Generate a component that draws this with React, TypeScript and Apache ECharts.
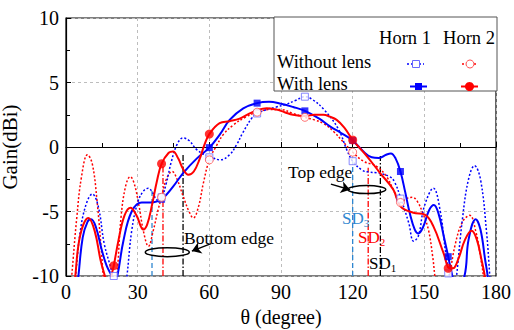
import React, { useEffect, useRef } from "react";
import * as echarts from "echarts";

const FONT = '"Liberation Serif", "Times New Roman", serif';

// Horn 1 without lens (blue dotted)
const horn1WithoutLens: [number, number][] = [
  [3, -12], [4, -10], [6, -6.5], [8.5, -4.4], [11, -3.65], [13.5, -4.6], [16, -7.5], [19.5, -10], [22.5, -14], [25.5, -10],
  [27.5, -6.5], [30, -4.3], [32.5, -3.4], [34.4, -3.2], [36.5, -3.6], [38, -4.1], [40, -3.9], [42, -2.8], [44, -1.2], [46.5, 0.2],
  [49, 0.7], [51.5, 0.5], [54.7, -0.2], [58, -0.6], [61, -0.8], [64.5, -1.0], [68.5, -0.6], [71.5, 0.2], [74, 1.1], [78, 2.3],
  [80, 2.6], [84, 2.9], [88, 3.1], [92, 3.3], [96, 3.6], [100, 3.9], [103, 3.7], [108, 2.9], [114, 1.4], [117.5, -0.2],
  [120, -1.1], [124, -1.8], [127, -1.95], [130, -2.0], [135.5, -2.3], [137.5, -2.7], [140, -3.9], [143.5, -5.9], [145.5, -7.3], [147.5, -6.9],
  [150, -4.6], [153.8, -3.2], [156.5, -4.8], [159, -8.3], [160.5, -10], [162, -12.5], [163.5, -10], [166, -5.5], [168.5, -2.5], [171, -1.45],
  [173.5, -2.5], [176, -6.5], [177.4, -10], [178.5, -13],
];

// Horn 1 with lens (blue solid)
const horn1WithLens: [number, number][] = [
  [4, -12], [5.2, -10], [7, -7], [9, -5.8], [10.5, -5.6], [12.5, -6.2], [15, -8], [17, -9.2], [19.2, -10], [20.3, -10.4],
  [21.5, -10], [24, -7.3], [27.5, -5.0], [31.7, -4.3], [35.3, -4.3], [40, -4.05], [44.9, -3.05], [49.1, -2.0], [54.7, -0.9], [60, -0.05],
  [64.5, 1.0], [68.5, 2.1], [74.2, 3.0], [80, 3.4], [85, 3.5], [90, 3.35], [95.1, 3.1], [100, 2.8], [106, 2.2], [110.5, 1.6],
  [115, 1.1], [120, 0.5], [124.5, -0.35], [128, -0.8], [131, -0.85], [134, -0.6], [136, -0.5], [138, -0.9], [140, -1.9], [142, -3.5],
  [144, -5.2], [146, -6.4], [147.5, -6.7], [149.5, -6.2], [152, -4.9], [154, -4.5], [156, -5.2], [158, -6.8], [160, -8.5], [161.5, -9.8],
  [163.5, -11], [166.8, -10], [168.5, -7.2], [171.5, -5.6], [173.5, -6.4], [175.5, -8.8], [176.5, -10], [177.5, -12],
];

// Horn 2 without lens (red dotted)
const horn2WithoutLens: [number, number][] = [
  [1, -13], [2.4, -10], [4.5, -5.5], [6.5, -2.3], [9, -0.6], [11, -1.3], [13, -4.2], [15, -8.5], [15.6, -10], [18.5, -14],
  [21.3, -10], [23, -5.5], [25, -3], [26.9, -2.3], [28.5, -2.8], [30.5, -4.5], [32.5, -6.6], [34.5, -7.7], [36.5, -6.5], [38.5, -4.9],
  [40, -3.9], [42, -2.5], [44.4, -1.9], [46.5, -2.5], [49, -3.8], [51.5, -5.0], [53.3, -5.5], [55.5, -4.6], [57.5, -2.8], [60, -1.0],
  [63, 0.1], [66, 1.0], [70, 1.7], [75, 2.3], [80, 2.7], [85, 2.9], [90, 2.9], [95, 2.6], [100, 2.3], [104, 2.1],
  [108, 1.8], [112, 1.2], [116, 0.4], [120, -0.4], [124.5, -1.1], [130, -1.5], [134.2, -2.3], [137, -3.3], [140, -4.3], [142.5, -4.0],
  [145, -3.9], [147, -4.2], [149.5, -5.2], [151.7, -6.4], [153.5, -8.5], [154.4, -10], [157, -14], [160.6, -10], [163, -7.5], [166, -5.8],
  [169, -5.3], [171.5, -6.5], [173.5, -8.5], [174.7, -10], [176, -13],
];

// Horn 2 with lens (red solid)
const horn2WithLens: [number, number][] = [
  [3, -12], [3.9, -10], [6, -6.8], [9.4, -5.5], [12, -6.5], [14.5, -8.8], [16.3, -10], [17.8, -10.8], [19.2, -9.8], [20, -9.2],
  [22, -7.2], [24.5, -5.3], [27, -4.7], [29.5, -5.3], [32.4, -6.4], [34, -6.0], [36, -4.5], [38, -2.7], [40, -1.3], [43, -0.45],
  [44.8, -0.35], [47, -0.9], [49, -1.7], [51.2, -2.15], [53.5, -1.9], [56, -0.9], [58, 0.2], [60, 1.0], [64.3, 1.85], [68.5, 2.0],
  [72.7, 2.2], [76.9, 2.6], [80, 2.85], [84, 3.0], [88, 2.9], [91.5, 2.7], [95, 2.5], [100, 2.4], [104, 2.5], [107.7, 2.5],
  [110.5, 2.35], [113.3, 2.1], [116.5, 1.5], [120, 0.55], [125.9, -0.7], [131.4, -2.0], [137, -3.3], [140, -4.6], [145.4, -5.1], [150.2, -5.25],
  [153.8, -6.15], [158, -8.2], [160.6, -9.4], [162, -9.4], [164.2, -8.7], [167, -7.2], [169.8, -6.5], [172, -7.2], [174, -8.8], [175.3, -10],
  [176.5, -12],
];

// Marker points (every 20°)
const horn1WithoutMarkers: [number, number][] = [[20, -10], [40, -3.9], [60, -0.8], [80, 2.6], [100, 3.9], [120, -1.1], [140, -4.0], [160, -9.8]];
const horn1WithMarkers: [number, number][] = [[40, -4.05], [60, -0.05], [80, 3.4], [100, 2.8], [120, 0.5], [140, -1.9], [160, -8.5]];
const horn2WithoutMarkers: [number, number][] = [[40, -3.9], [60, -1.0], [80, 2.7], [100, 2.3], [120, -0.4], [140, -4.3]];
const horn2WithMarkers: [number, number][] = [[20, -9.2], [40, -1.3], [60, 1.0], [120, 0.55], [160, -9.4]];

// SD reference lines: [theta, top gain]
const sd3Lines: [number, number][] = [[36, -3.3], [120, -1.1]];
const sd2Lines: [number, number][] = [[40.6, -1.3], [126.5, -1.6]];
const sd1Lines: [number, number][] = [[49, -0.5], [131.6, -0.7]];

// Edge ellipses (centre theta, centre gain) and arrows
const bottomEdgeCenter: [number, number] = [42.4, -8.15];
const topEdgeCenter: [number, number] = [125.9, -3.3];
const bottomArrow: [number, number][] = [[60.7, -7.49], [52.7, -8.07]];
const topArrow: [number, number][] = [[110.9, -2.88], [118.9, -3.31]];

const BLUE = "#0000ff";
const RED = "#ff0000";
const SDBLUE = "#2e86d0";

export default function App() {
  const ref = useRef<HTMLDivElement>(null);
  useEffect(() => {
    if (!ref.current) return;
    const chart = echarts.init(ref.current, undefined, { renderer: "svg" });

    const vline = (pts: [number, number][], color: string, type: any) =>
      pts.map(([x, top]) => ({
        type: "line",
        data: [[x, -10], [x, top]],
        symbol: "none",
        silent: true,
        z: 1,
        lineStyle: { color, width: 1.3, type },
      }));

    const series: any[] = [
      ...vline(sd3Lines, SDBLUE, [5, 3]),
      ...vline(sd2Lines, RED, [6, 2, 1.5, 2]),
      ...vline(sd1Lines, "#000", [6, 2, 1.5, 2]),
      { type: "line", data: horn2WithoutLens, smooth: 0.4, showSymbol: false, lineStyle: { color: RED, width: 1.5, type: [2, 2] }, z: 2 },
      { type: "line", data: horn1WithoutLens, smooth: 0.4, showSymbol: false, lineStyle: { color: BLUE, width: 1.5, type: [2, 2] }, z: 2 },
      { type: "line", data: horn1WithLens, smooth: 0.4, showSymbol: false, lineStyle: { color: BLUE, width: 2 }, z: 3 },
      { type: "line", data: horn2WithLens, smooth: 0.4, showSymbol: false, lineStyle: { color: RED, width: 2 }, z: 3 },
      { type: "scatter", data: horn1WithMarkers, symbol: "rect", symbolSize: 7, itemStyle: { color: BLUE }, z: 4 },
      { type: "scatter", data: horn1WithoutMarkers, symbol: "rect", symbolSize: 7, itemStyle: { color: "#fff", borderColor: "#6a6aff", borderWidth: 1 }, z: 5 },
      { type: "scatter", data: horn2WithoutMarkers, symbol: "circle", symbolSize: 8, itemStyle: { color: "#fff", borderColor: "#ff5050", borderWidth: 1 }, z: 5 },
      { type: "scatter", data: horn2WithMarkers, symbol: "circle", symbolSize: 9, itemStyle: { color: RED }, z: 6 },
      {
        type: "lines", coordinateSystem: "cartesian2d", polyline: false, symbol: ["none", "arrow"], symbolSize: 9, silent: true, z: 6,
        lineStyle: { color: "#000", width: 1.5, opacity: 1 },
        data: [{ coords: bottomArrow }, { coords: topArrow }],
      },
    ];

    const axisText = { fontFamily: FONT, fontSize: 20, color: "#000" };

    chart.setOption({
      animation: false,
      backgroundColor: "#fff",
      grid: {
        left: 66, right: 18, top: 18, bottom: 54, show: true, borderColor: "#000", borderWidth: 1.2,
        backgroundColor: "transparent", containLabel: false, outerBoundsMode: "none",
      },
      xAxis: {
        type: "value", min: 0, max: 180, interval: 30,
        axisLine: { lineStyle: { color: "#000", width: 1.2 } },
        axisTick: { inside: true, length: 5, lineStyle: { color: "#000" } },
        minorTick: { show: true, splitNumber: 2, length: 4, lineStyle: { color: "#000" } },
        splitLine: { show: true, lineStyle: { color: "#bdbdbd", type: [3, 3] } },
        axisLabel: { ...axisText, margin: 6 },
        name: "θ (degree)", nameLocation: "middle", nameGap: 31,
        nameTextStyle: { fontFamily: FONT, fontSize: 20, color: "#000" },
      },
      yAxis: {
        type: "value", min: -10, max: 10, interval: 5,
        axisLine: { lineStyle: { color: "#000", width: 1.2 } },
        axisTick: { inside: true, length: 5, lineStyle: { color: "#000" } },
        minorTick: { show: true, splitNumber: 2, length: 4, lineStyle: { color: "#000" } },
        splitLine: { show: true, lineStyle: { color: "#bdbdbd", type: [3, 3] } },
        axisLabel: { ...axisText, margin: 7 },
        name: "Gain(dBi)", nameLocation: "middle", nameGap: 33,
        nameTextStyle: { fontFamily: FONT, fontSize: 21, color: "#000", lineHeight: 22 },
      },
      series,
    });

    const p1 = chart.convertToPixel({ gridIndex: 0 }, bottomEdgeCenter) as number[];
    const p2 = chart.convertToPixel({ gridIndex: 0 }, topEdgeCenter) as number[];

    const txt = (text: string, x: number, y: number, size = 17.5, align = "left", fill = "#000") => ({
      type: "text", x, y, z: 100,
      style: { text, fontFamily: FONT, fontSize: size, fill, align, verticalAlign: "middle" },
    });
    const sd = (sub: string, x: number, y: number, fill: string) => ({
      type: "text", x, y, z: 100,
      style: {
        text: `{a|SD}{b|${sub}}`, fill, align: "left", verticalAlign: "middle",
        rich: {
          a: { fontFamily: FONT, fontSize: 17, fill, lineHeight: 20, verticalAlign: "middle" },
          b: { fontFamily: FONT, fontSize: 11, fill, lineHeight: 20, verticalAlign: "bottom", padding: [10, 0, 0, 0] },
        },
      },
    });

    chart.setOption({
      graphic: [
        { type: "ellipse", shape: { cx: p1[0], cy: p1[1], rx: 22, ry: 4.5 }, style: { fill: "none", stroke: "#000", lineWidth: 1.5 }, z: 100 },
        { type: "ellipse", shape: { cx: p2[0], cy: p2[1], rx: 19, ry: 4 }, style: { fill: "none", stroke: "#000", lineWidth: 1.5 }, z: 100 },
        txt("Bottom edge", 184, 238),
        txt("Top edge", 288, 172),
        sd("3", 342, 218, SDBLUE),
        sd("2", 358, 237, RED),
        sd("1", 369, 263, "#000"),
        // legend
        { type: "rect", shape: { x: 274, y: 17, width: 223, height: 74 }, style: { fill: "#fff", stroke: "#555", lineWidth: 1 }, z: 100 },
        txt("Horn 1", 405, 38, 18.5, "center"),
        txt("Horn 2", 469, 38, 18.5, "center"),
        txt("Without lens", 277, 62, 18.5),
        txt("With lens", 277, 84, 18.5),
        { type: "line", shape: { x1: 407, y1: 64, x2: 424, y2: 64 }, style: { stroke: BLUE, lineWidth: 1.5, lineDash: [2, 2] }, z: 101 },
        { type: "rect", shape: { x: 412.5, y: 60.5, width: 7, height: 7 }, style: { fill: "#fff", stroke: "#6a6aff", lineWidth: 1 }, z: 102 },
        { type: "line", shape: { x1: 462, y1: 64, x2: 478, y2: 64 }, style: { stroke: RED, lineWidth: 1.5, lineDash: [2, 2] }, z: 101 },
        { type: "circle", shape: { cx: 470, cy: 64, r: 4 }, style: { fill: "#fff", stroke: "#ff5050", lineWidth: 1 }, z: 102 },
        { type: "line", shape: { x1: 410, y1: 86.5, x2: 427, y2: 86.5 }, style: { stroke: BLUE, lineWidth: 2 }, z: 101 },
        { type: "rect", shape: { x: 415, y: 83, width: 7, height: 7 }, style: { fill: BLUE }, z: 102 },
        { type: "line", shape: { x1: 461, y1: 86.5, x2: 478, y2: 86.5 }, style: { stroke: RED, lineWidth: 2 }, z: 101 },
        { type: "circle", shape: { cx: 469.5, cy: 86.5, r: 4.5 }, style: { fill: RED }, z: 102 },
      ],
    });

    return () => chart.dispose();
  }, []);

  return <div ref={ref} style={{ position: "fixed", left: 0, top: 0, width: 514, height: 330, background: "#fff" }} />;
}
